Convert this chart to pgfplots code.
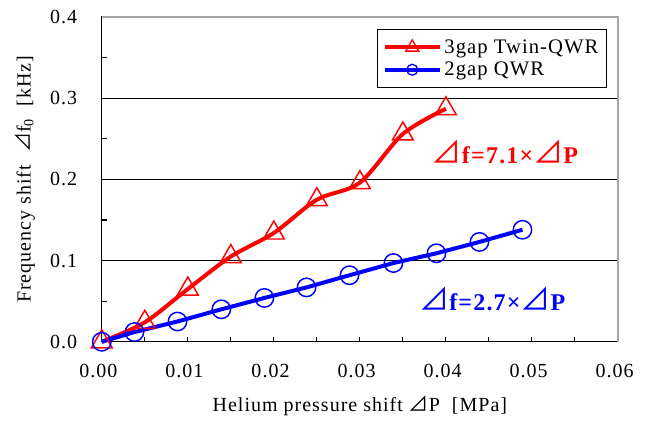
\documentclass[border=0pt]{standalone}
\usepackage{fontspec}
\setmainfont{Liberation Serif}[LetterSpace=5]
\newfontfamily\symfont{Noto Sans CJK JP}
\usepackage{pgfplots}
\pgfplotsset{compat=1.18}
\definecolor{exred}{RGB}{255,0,0}
\definecolor{exblue}{RGB}{0,0,255}
\newcommand{\tri}{{\symfont\mdseries ⊿}}
\newcommand{\btri}{\scalebox{1.25}{\symfont\mdseries ⊿}}
\newcommand{\lblfont}{\fontsize{15}{18}\selectfont}

\begin{document}
\begin{tikzpicture}
\begin{axis}[
    scale only axis,
    width=387pt, height=243.5pt,
    xmin=0, xmax=0.06, ymin=0, ymax=0.4,
    xtick={0,0.01,0.02,0.03,0.04,0.05,0.06},
    ytick={0,0.1,0.2,0.3,0.4},
    minor x tick num=1, minor y tick num=1,
    scaled ticks=false,
    tick pos=left, tick align=inside,
    major tick length=3.75pt, minor tick length=3.75pt,
    every tick/.style={black, line width=0.8pt},
    ymajorgrids,
    grid style={black, line width=0.6pt},
    axis line style={black, line width=1pt},
    /pgf/number format/assume math mode=true,
    tick label style={font=\lblfont},
    xticklabel style={/pgf/number format/fixed, /pgf/number format/fixed zerofill,
        /pgf/number format/precision=2, yshift=-13pt, xshift=-2.5pt},
    yticklabel style={/pgf/number format/fixed, /pgf/number format/fixed zerofill,
        /pgf/number format/precision=1, xshift=-15pt},
    xlabel={Helium pressure shift \tri P\ \ [MPa]},
    ylabel={Frequency shift\ \ \tri f\textsubscript{0}\ \ [kHz]},
    label style={font=\lblfont},
    xlabel style={at={(axis description cs:0.5,-0.2134)}, anchor=base},
    ylabel style={at={(axis description cs:-0.149,0.5)}, anchor=center},
    clip=false,
    legend style={at={(0.9787,0.963)}, anchor=north east, draw=black,
        line width=0.8pt, font=\fontsize{15.5}{18}\selectfont, row sep=1pt,
        inner xsep=4pt, inner ysep=5.5pt},
    legend cell align=left,
    legend image code/.code={\draw[mark repeat=2,mark phase=2,#1]
        plot coordinates {(0pt,0pt) (20.6pt,0pt) (41.2pt,0pt)};},
]
% 3gap Twin-QWR
\addplot[exred, line width=3pt, smooth, tension=0.5, mark=triangle, mark size=9pt,
    mark options={solid, line width=1.1pt}, forget plot] coordinates {
    (0.000,0.000) (0.005,0.024) (0.010,0.065) (0.015,0.105) (0.020,0.134)
    (0.025,0.175) (0.030,0.196) (0.035,0.256) (0.040,0.287)
};
% 2gap QWR
\addplot[exblue, line width=3pt, mark=o, mark size=6.9pt,
    mark options={solid, line width=1.1pt}, forget plot] coordinates {
    (0.0000,0.000) (0.0038,0.012) (0.0088,0.025) (0.0139,0.040) (0.0189,0.054)
    (0.0238,0.067) (0.0288,0.082) (0.0339,0.097) (0.0389,0.109) (0.0439,0.123)
    (0.0489,0.138)
};
\addlegendimage{exred, line width=3pt, mark=triangle, mark size=5.6pt,
    mark options={solid, line width=1pt}}
\addlegendentry{3gap Twin-QWR}
\addlegendimage{exblue, line width=3pt, mark=o, mark size=4.1pt,
    mark options={solid, line width=1pt}}
\addlegendentry{2gap QWR}

\draw[gray!70, line width=1pt] (rel axis cs:0,1) -- (rel axis cs:1,1) -- (rel axis cs:1,0);

\node[exred, anchor=base west, inner sep=0, font=\fontsize{18}{20}\selectfont\bfseries]
    at (axis cs:0.03835,0.220) {\btri f=7.1×\btri P};
\node[exblue, anchor=base west, inner sep=0, font=\fontsize{18}{20}\selectfont\bfseries]
    at (axis cs:0.03687,0.039) {\btri f=2.7×\btri P};
\end{axis}
\pgfresetboundingbox
\path[use as bounding box] (-76.3pt,-58.7pt) rectangle (409.5pt,256.25pt);
\end{tikzpicture}
\end{document}
